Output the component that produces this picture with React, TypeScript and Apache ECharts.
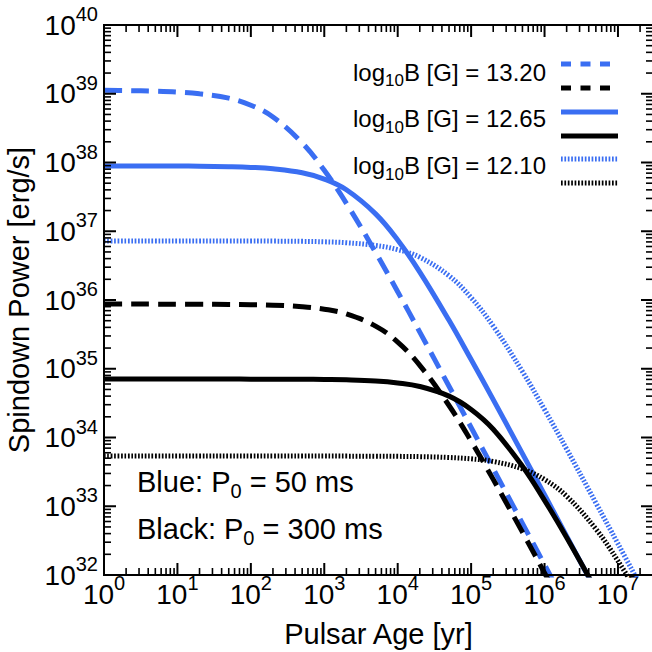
import React, { useEffect, useRef } from "react";
import * as echarts from "echarts";

// Pulsar age grid [yr]
const ages = [1, 2, 5, 10, 20, 50, 100, 200, 500, 1e3, 2e3, 5e3, 1e4, 2e4, 5e4, 1e5, 2e5, 5e5, 1e6, 2e6, 5e6, 1e7, 2e7];

// Spindown power [erg/s]
const blueB1320 = [1.12e39, 1.11e39, 1.09e39, 1.06e39, 1.0e39, 8.63e38, 6.82e38, 4.59e38, 1.93e38, 7.69e37, 2.55e37, 4.93e36, 1.32e36, 3.41e35, 5.57e34, 1.4e34, 3.52e33, 5.64e32, 1.41e32, 3.53e31, null, null, null];
const blackB1320 = [8.71e35, 8.71e35, 8.71e35, 8.69e35, 8.67e35, 8.63e35, 8.55e35, 8.41e35, 7.98e35, 7.35e35, 6.28e35, 4.17e35, 2.44e35, 1.12e35, 2.92e34, 8.87e33, 2.46e33, 4.2e32, 1.07e32, 2.71e31, null, null, null];
const blueB1265 = [8.91e37, 8.91e37, 8.89e37, 8.87e37, 8.83e37, 8.69e37, 8.49e37, 8.09e37, 7.08e37, 5.74e37, 4.01e37, 1.79e37, 7.46e36, 2.55e36, 5.06e35, 1.36e35, 3.56e34, 5.82e33, 1.47e33, 3.68e32, 5.9e31, null, null];
const blackB1265 = [7.08e34, 7.08e34, 7.08e34, 7.08e34, 7.08e34, 7.08e34, 7.06e34, 7.06e34, 7.03e34, 6.98e34, 6.9e34, 6.64e34, 6.22e34, 5.52e34, 4.0e34, 2.56e34, 1.32e34, 3.82e33, 1.22e33, 3.51e32, 6.11e31, null, null];
const blueB1210 = [7.24e36, 7.24e36, 7.24e36, 7.24e36, 7.24e36, 7.23e36, 7.23e36, 7.19e36, 7.13e36, 7.02e36, 6.81e36, 6.22e36, 5.4e36, 4.18e36, 2.25e36, 1.08e36, 4.17e35, 9.1e34, 2.55e34, 6.78e33, 1.12e33, 2.85e32, 7.16e31];
const blackB1210 = [5.37e33, 5.37e33, 5.37e33, 5.37e33, 5.37e33, 5.37e33, 5.37e33, 5.37e33, 5.37e33, 5.37e33, 5.36e33, 5.35e33, 5.32e33, 5.27e33, 5.12e33, 4.89e33, 4.48e33, 3.5e33, 2.45e33, 1.4e33, 4.67e32, 1.6e32, 4.81e31];

const legendLabels = ["13.20", "12.65", "12.10"];
const xMajorExp = [0, 1, 2, 3, 4, 5, 6, 7];
const yMajorExp = [32, 33, 34, 35, 36, 37, 38, 39, 40];
const minorMultipliers = [2, 3, 4, 5, 6, 7, 8, 9];

const BLUE = "#3a6ef2";
const FONT = "'Liberation Sans', Arial, Helvetica, sans-serif";
const X_MIN = 1;
const X_MAX = 3e7;
const Y_MIN = 1e32;
const Y_MAX = 1e40;

const DASH = [18, 9];
const DOT = [1.7, 1.7];

const curves = [
  { name: "blue 13.20", values: blueB1320, color: BLUE, dash: DASH as any },
  { name: "black 13.20", values: blackB1320, color: "#000", dash: DASH as any },
  { name: "blue 12.65", values: blueB1265, color: BLUE, dash: "solid" as any },
  { name: "black 12.65", values: blackB1265, color: "#000", dash: "solid" as any },
  { name: "blue 12.10", values: blueB1210, color: BLUE, dash: DOT as any },
  { name: "black 12.10", values: blackB1210, color: "#000", dash: DOT as any },
];

function powLabel(v: number, maxExp: number) {
  const l = Math.log10(v);
  const e = Math.round(l);
  if (Math.abs(l - e) > 1e-6 || e > maxExp) return "";
  return `{b|10}{s|${e}}`;
}

const labelRich = {
  b: { fontSize: 28, lineHeight: 28, fontFamily: FONT, color: "#000", verticalAlign: "bottom" },
  s: { fontSize: 20, lineHeight: 20, fontFamily: FONT, color: "#000", verticalAlign: "bottom", padding: [0, 0, 15, 0] },
};

export default function App() {
  const ref = useRef<HTMLDivElement>(null);
  useEffect(() => {
    if (!ref.current) return;
    const chart = echarts.init(ref.current, undefined, { renderer: "svg" });

    const lineSeries: any[] = curves.map((c) => ({
      type: "line",
      name: c.name,
      xAxisIndex: 0,
      yAxisIndex: 0,
      showSymbol: false,
      symbol: "none",
      smooth: 0.4,
      clip: true,
      data: ages.map((t, i) => [t, c.values[i]]).filter((p) => p[1] != null),
      lineStyle: { color: c.color, width: 5, type: c.dash, cap: "butt" },
      z: 3,
    }));

    const noLine = { show: false };

    chart.setOption({
      animation: false,
      grid: { left: 104, top: 25, width: 549, height: 550, containLabel: false, outerBoundsMode: "none" },
      xAxis: [
        {
          type: "log",
          logBase: 10,
          min: X_MIN,
          max: X_MAX,
          splitNumber: 8,
          position: "bottom",
          axisLine: noLine,
          axisTick: { show: false },
          splitLine: { show: false },
          minorTick: { show: false },
          axisLabel: {
            margin: 5,
            formatter: (v: number) => powLabel(v, 7),
            rich: labelRich,
            showMaxLabel: false,
          },
          name: "Pulsar Age [yr]",
          nameLocation: "middle",
          nameGap: 44,
          nameTextStyle: { fontSize: 29, fontFamily: FONT, color: "#000" },
        },
      ],
      yAxis: [
        {
          type: "log",
          logBase: 10,
          min: Y_MIN,
          max: Y_MAX,
          splitNumber: 8,
          position: "left",
          axisLine: noLine,
          axisTick: { show: false },
          splitLine: { show: false },
          minorTick: { show: false },
          axisLabel: {
            margin: 6,
            formatter: (v: number) => powLabel(v, 40),
            rich: labelRich,
          },
          name: "Spindown Power [erg/s]",
          nameLocation: "middle",
          nameGap: 66,
          nameTextStyle: { fontSize: 29, fontFamily: FONT, color: "#000" },
        },
      ],
      series: lineSeries,
    });

    // ----- frame and tick marks placed through the axes' own scales -----
    const toPx = (x: number, y: number): number[] => chart.convertToPixel({ gridIndex: 0 }, [x, y]) as any;
    const gLB = toPx(X_MIN, Y_MIN);
    const gRT = toPx(X_MAX, Y_MAX);
    const gLeft = gLB[0];
    const gBottom = gLB[1];
    const gRight = gRT[0];
    const gTop = gRT[1];

    const graphics: any[] = [];
    graphics.push({
      type: "rect",
      id: "frame",
      z: 90,
      shape: { x: gLeft, y: gTop, width: gRight - gLeft, height: gBottom - gTop },
      style: { fill: "none", stroke: "#000", lineWidth: 2 },
    });

    let tid = 0;
    const addTick = (x1: number, y1: number, x2: number, y2: number, major: boolean) => {
      graphics.push({
        type: "polyline",
        id: "tk" + tid++,
        z: 100,
        shape: { points: [[x1, y1], [x2, y2]] },
        style: { fill: "none", stroke: "#000", lineWidth: major ? 2 : 1.6 },
      });
    };
    xMajorExp.forEach((e) => {
      const base = Math.pow(10, e);
      [base].concat(minorMultipliers.map((m) => m * base)).filter((v) => v < X_MAX).forEach((v, k) => {
        const major = k === 0;
        const len = major ? 12 : 7;
        const x = toPx(v, Y_MIN)[0];
        addTick(x, gBottom, x, gBottom - len, major);
        addTick(x, gTop, x, gTop + len, major);
      });
    });
    yMajorExp.forEach((e) => {
      const base = Math.pow(10, e);
      (e < 40 ? [base].concat(minorMultipliers.map((m) => m * base)) : [base]).forEach((v, k) => {
        const major = k === 0;
        const len = major ? 12 : 7;
        const y = toPx(X_MIN, v)[1];
        addTick(gLeft, y, gLeft + len, y, major);
        addTick(gRight, y, gRight - len, y, major);
      });
    });

    // ----- legend -----
    const legendRich = {
      a: { fontSize: 24, lineHeight: 24, fontFamily: FONT, color: "#000", verticalAlign: "top" },
      s: { fontSize: 17, lineHeight: 17, fontFamily: FONT, color: "#000", verticalAlign: "top", padding: [12, 0, 0, 0] },
    };
    const rowY = [72, 118.5, 165.5];
    const sampleY = [
      [64, 88],
      [112, 136],
      [159, 183],
    ];
    const sampleDash = [[10, 9.5], null, [1.7, 1.7]];

    legendLabels.forEach((lab, i) => {
      graphics.push({
        type: "text",
        id: "lt" + i,
        x: 546,
        y: rowY[i],
        style: {
          text: `{a|log}{s|10}{a|B [G] = ${lab}}`,
          rich: legendRich,
          align: "right",
          verticalAlign: "middle",
        },
      });
      [BLUE, "#000"].forEach((col, j) => {
        graphics.push({
          type: "line",
          id: "ls" + i + "_" + j,
          shape: { x1: 561, y1: sampleY[i][j], x2: 618, y2: sampleY[i][j] },
          style: { stroke: col, lineWidth: 5, lineDash: sampleDash[i] || undefined },
        });
      });
    });

    const noteRich = (color: string) => ({
      a: { fontSize: 29, lineHeight: 29, fontFamily: FONT, color, verticalAlign: "top" },
      s: { fontSize: 20, lineHeight: 20, fontFamily: FONT, color, verticalAlign: "top", padding: [14, 0, 0, 0] },
    });
    graphics.push({
      type: "text",
      id: "noteBlue",
      x: 137,
      y: 481.5,
      style: { text: "{a|Blue: P}{s|0}{a| = 50 ms}", rich: noteRich(BLUE), align: "left", verticalAlign: "middle" },
    });
    graphics.push({
      type: "text",
      id: "noteBlack",
      x: 137,
      y: 528.5,
      style: { text: "{a|Black: P}{s|0}{a| = 300 ms}", rich: noteRich("#000"), align: "left", verticalAlign: "middle" },
    });

    chart.setOption({ graphic: graphics });

    return () => chart.dispose();
  }, []);

  return <div ref={ref} style={{ position: "fixed", left: 0, top: 0, width: 652, height: 652, background: "#fff" }} />;
}
